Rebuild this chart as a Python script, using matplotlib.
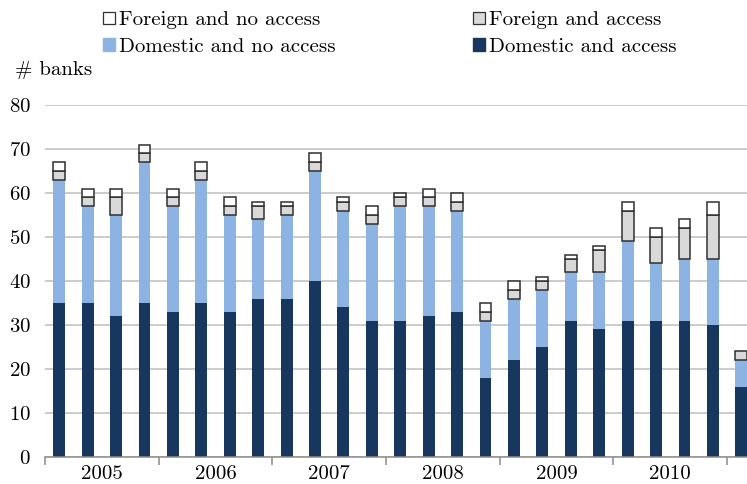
import matplotlib
matplotlib.use("Agg")
import matplotlib.pyplot as plt
import numpy as np
from matplotlib.patches import Patch

plt.rcParams['font.family'] = ['cmr10', 'DejaVu Serif']
plt.rcParams['axes.formatter.use_mathtext'] = True

years = ["2005", "2006", "2007", "2008", "2009", "2010"]
dom_access = [35, 35, 32, 35, 33, 35, 33, 36, 36, 40, 34, 31, 31, 32, 33, 18, 22, 25, 31, 29, 31, 31, 31, 30, 16]
dom_no_access = [28, 22, 23, 32, 24, 28, 22, 18, 19, 25, 22, 22, 26, 25, 23, 13, 14, 13, 11, 13, 18, 13, 14, 15, 6]
for_access = [2, 2, 4, 2, 2, 2, 2, 3, 2, 2, 2, 2, 2, 2, 2, 2, 2, 2, 3, 5, 7, 6, 7, 10, 2]
for_no_access = [2, 2, 2, 2, 2, 2, 2, 1, 1, 2, 1, 2, 1, 2, 2, 2, 2, 1, 1, 1, 2, 2, 2, 3, 0]

c_da = "#17375e"
c_dna = "#8db3e2"
c_fa = "#d9d9d9"
c_fna = "#ffffff"
edge = "#303030"

fig = plt.figure(figsize=(7.47, 4.84), dpi=100)
ax = fig.add_axes([45/747, 27/484, 702/747, 352/484])

x = np.arange(len(dom_access))
w = 0.42
da = np.array(dom_access)
dna = np.array(dom_no_access)
fa = np.array(for_access)
fna = np.array(for_no_access)

ax.bar(x, da, w, color=c_da, zorder=3, linewidth=0)
ax.bar(x, dna, w, bottom=da, color=c_dna, zorder=3, linewidth=0)
ax.bar(x, fa, w, bottom=da + dna, color=c_fa, edgecolor=edge, linewidth=1.1, zorder=3)
mask = fna > 0
ax.bar(x[mask], fna[mask], w, bottom=(da + dna + fa)[mask], color=c_fna, edgecolor=edge, linewidth=1.1, zorder=3)

ax.set_ylim(0, 80)
ax.set_xlim(-0.5, 24.2)
ax.set_yticks(np.arange(0, 81, 10))
ax.yaxis.grid(True, color="#bfbfbf", linewidth=1.1, zorder=0)
ax.tick_params(axis='y', length=0, pad=10, labelsize=15)
for s in ["left", "right", "top"]:
    ax.spines[s].set_visible(False)
ax.spines["bottom"].set_color("#8c8c8c")
ax.spines["bottom"].set_linewidth(1.1)
ax.spines["bottom"].set_zorder(4)

ax.set_xticks(np.arange(-0.5, 24, 4))
ax.set_xticklabels([])
ax.set_xticks(np.arange(1.5, 24, 4)[:len(years)], minor=True)
ax.set_xticklabels(years, minor=True, fontsize=15)
ax.tick_params(axis='x', which='major', length=6, color="#8c8c8c", width=1.1)
ax.tick_params(axis='x', which='minor', length=0, pad=6)

fig.text(15/747, 1 - 70/484, "# banks", fontsize=15, va='center', ha='left')

handles = [
    Patch(facecolor=c_fna, edgecolor=edge, linewidth=0.9, label="Foreign and no access"),
    Patch(facecolor=c_dna, edgecolor=c_dna, label="Domestic and no access"),
    Patch(facecolor=c_fa, edgecolor=edge, linewidth=0.9, label="Foreign and access"),
    Patch(facecolor=c_da, edgecolor=c_da, label="Domestic and access"),
]
fig.legend(handles=handles, ncol=2, loc='upper left', bbox_to_anchor=(92/747, 1.0),
           frameon=False, fontsize=15, handlelength=0.55, handleheight=0.55,
           handletextpad=0.2, columnspacing=6.6, labelspacing=0.4, borderpad=0.05)

fig.savefig("out.png", dpi=100)
